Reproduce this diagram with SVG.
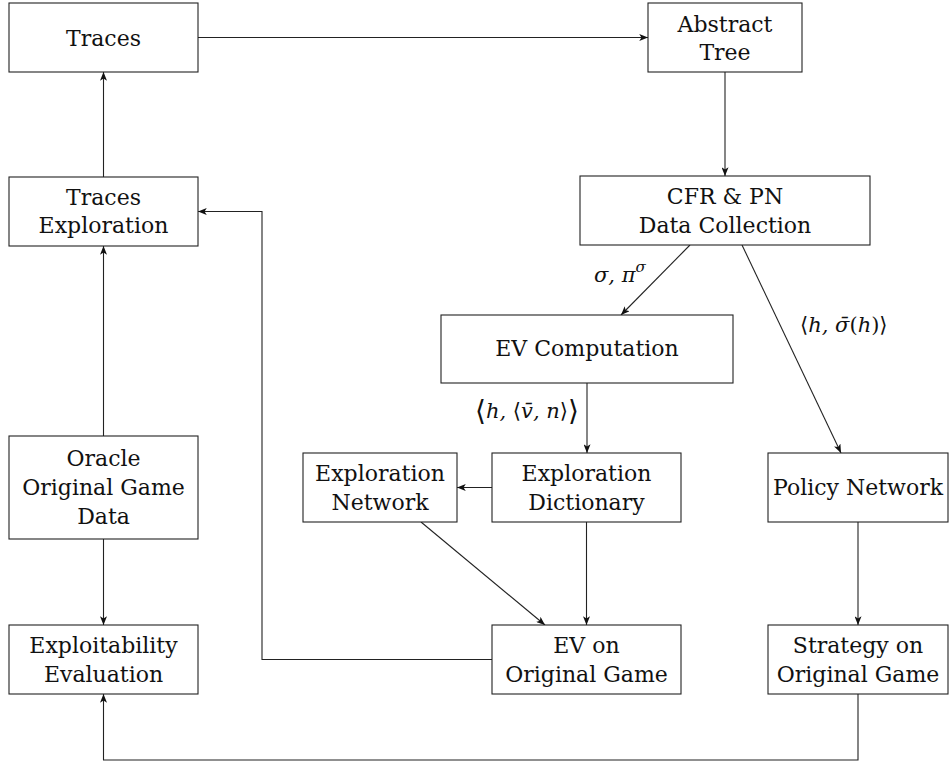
<svg xmlns="http://www.w3.org/2000/svg" width="950" height="765" viewBox="0 0 950 765">
<style>
  .box { fill: #ffffff; stroke: #222222; stroke-width: 1.1; }
  .t { font-family: "DejaVu Serif", "Noto Serif", "Liberation Serif", Tinos, FreeSerif, serif; font-size: 22px; fill: #111111; text-anchor: middle; }
  .m { font-family: "DejaVu Serif", "Noto Serif", "Liberation Serif", Tinos, FreeSerif, serif; font-size: 21px; fill: #111111; font-style: italic; }
  .r { font-style: normal; }
  .c { fill: none; stroke: #222222; stroke-width: 1.1; marker-end: url(#ah); }
</style>
<defs>
  <marker id="ah" viewBox="0 0 10 8" refX="10" refY="4" markerWidth="9" markerHeight="7" markerUnits="userSpaceOnUse" orient="auto">
    <path d="M0,0 L10,4 L0,8 L2.5,4 z" fill="#111111"/>
  </marker>
</defs>
<rect width="950" height="765" fill="#ffffff"/>

<g id="connectors">
  <path class="c" d="M198,37.5 H648"/>
  <path class="c" d="M103.5,177 V72"/>
  <path class="c" d="M725,72 V176"/>
  <path class="c" d="M690,245 L621,315"/>
  <path class="c" d="M742,245 L841,453"/>
  <path class="c" d="M587,383 V453"/>
  <path class="c" d="M492,487.5 H457"/>
  <path class="c" d="M421,522 L545,625"/>
  <path class="c" d="M586.5,522 V625"/>
  <path class="c" d="M492,659.5 H262 V211.5 H198"/>
  <path class="c" d="M103.5,436 V246"/>
  <path class="c" d="M103.5,539 V625"/>
  <path class="c" d="M858,522 V625"/>
  <path class="c" d="M858,694 V760 H103.5 V694"/>
  <text class="m" x="594" y="282">σ, π<tspan font-size="15" dy="-10">σ</tspan></text>
  <text class="m" x="475" y="418"><tspan class="r" font-size="28" dy="2">⟨</tspan><tspan dy="-2">h, </tspan><tspan class="r">⟨</tspan>v̄, n<tspan class="r">⟩</tspan><tspan class="r" font-size="28" dy="2">⟩</tspan></text>
  <text class="m" x="800" y="332"><tspan class="r">⟨</tspan>h, σ̄<tspan class="r">(</tspan>h<tspan class="r">)⟩</tspan></text>
</g>

<g id="traces">
  <rect class="box" x="9" y="3" width="189" height="69"/>
  <text class="t" x="103.5" y="46">Traces</text>
</g>
<g id="abstract-tree">
  <rect class="box" x="648" y="3" width="154" height="69"/>
  <text class="t" x="725" y="31.5">Abstract</text>
  <text class="t" x="725" y="60">Tree</text>
</g>
<g id="cfr-pn">
  <rect class="box" x="580" y="176" width="290" height="69"/>
  <text class="t" x="725" y="204">CFR &amp; PN</text>
  <text class="t" x="725" y="232.5">Data Collection</text>
</g>
<g id="traces-exploration">
  <rect class="box" x="9" y="177" width="189" height="69"/>
  <text class="t" x="103.5" y="204.5">Traces</text>
  <text class="t" x="103.5" y="233">Exploration</text>
</g>
<g id="ev-computation">
  <rect class="box" x="441" y="315" width="292" height="68"/>
  <text class="t" x="587" y="356">EV Computation</text>
</g>
<g id="oracle">
  <rect class="box" x="9" y="436" width="189" height="103"/>
  <text class="t" x="103.5" y="465.5">Oracle</text>
  <text class="t" x="103.5" y="495">Original Game</text>
  <text class="t" x="103.5" y="524">Data</text>
</g>
<g id="exploration-network">
  <rect class="box" x="303" y="453" width="154" height="69"/>
  <text class="t" x="380" y="481">Exploration</text>
  <text class="t" x="380" y="509.5">Network</text>
</g>
<g id="exploration-dictionary">
  <rect class="box" x="492" y="453" width="189" height="69"/>
  <text class="t" x="586.5" y="481">Exploration</text>
  <text class="t" x="586.5" y="509.5">Dictionary</text>
</g>
<g id="policy-network">
  <rect class="box" x="768" y="453" width="180" height="69"/>
  <text class="t" x="858" y="494.5">Policy Network</text>
</g>
<g id="exploitability-evaluation">
  <rect class="box" x="9" y="625" width="189" height="69"/>
  <text class="t" x="103.5" y="653">Exploitability</text>
  <text class="t" x="103.5" y="681.5">Evaluation</text>
</g>
<g id="ev-original-game">
  <rect class="box" x="492" y="625" width="189" height="69"/>
  <text class="t" x="586.5" y="653">EV on</text>
  <text class="t" x="586.5" y="681.5">Original Game</text>
</g>
<g id="strategy-original-game">
  <rect class="box" x="768" y="625" width="180" height="69"/>
  <text class="t" x="858" y="653">Strategy on</text>
  <text class="t" x="858" y="681.5">Original Game</text>
</g>
</svg>
